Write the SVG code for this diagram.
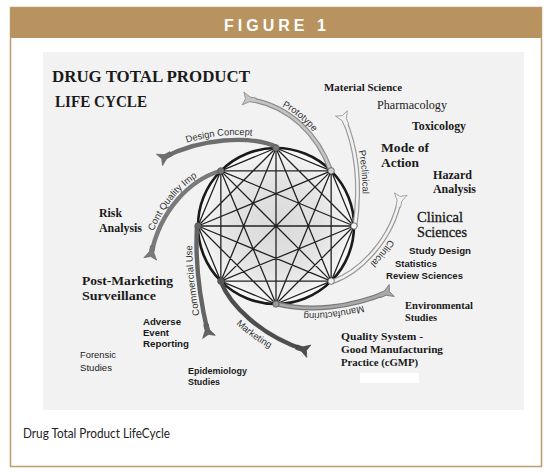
<svg xmlns="http://www.w3.org/2000/svg" width="550" height="472" viewBox="0 0 550 472">
<style>
.sb{font-family:"Liberation Serif","Times New Roman",serif;font-weight:bold;fill:#1a1a1a}
.sr{font-family:"Liberation Serif","Times New Roman",serif;fill:#1a1a1a}
.ab{font-family:"Liberation Sans",Arial,sans-serif;font-weight:bold;fill:#1a1a1a}
.ar{font-family:"Liberation Sans",Arial,sans-serif;fill:#1a1a1a}
.arc{font-family:"Liberation Sans",Arial,sans-serif;fill:#333;font-size:9.5px}
.band{fill:none;stroke-linecap:butt}
.chord{fill:none;stroke:#222;stroke-width:1.3}
.node{stroke:#555;stroke-width:0.8}
</style>
<defs>
<radialGradient id="gFill" cx="50%" cy="50%" r="50%">
<stop offset="0" stop-color="#dadada"/>
<stop offset="0.55" stop-color="#e2e2e2"/>
<stop offset="0.85" stop-color="#efefef"/>
<stop offset="1" stop-color="#fafafa"/>
</radialGradient>
<marker id="mk-dc" viewBox="-10 -8 15 16" refX="0" refY="0" markerWidth="15" markerHeight="16" markerUnits="userSpaceOnUse" orient="auto"><path d="M-9,-2.3 L-3,-2.3 L4,-6.5 L1.5,0 L4,6.5 L-3,2.3 L-9,2.3 Z" fill="#6e6e6e" stroke="#5e5e5e" stroke-width="0.6"/></marker>
<marker id="mk-cq" viewBox="-10 -8 15 16" refX="0" refY="0" markerWidth="15" markerHeight="16" markerUnits="userSpaceOnUse" orient="auto"><path d="M-9,-2.3 L-3,-2.3 L4,-6.5 L1.5,0 L4,6.5 L-3,2.3 L-9,2.3 Z" fill="#7a7a7a" stroke="#666" stroke-width="0.6"/></marker>
<marker id="mk-cu" viewBox="-10 -8 15 16" refX="0" refY="0" markerWidth="15" markerHeight="16" markerUnits="userSpaceOnUse" orient="auto"><path d="M-9,-2.3 L-3,-2.3 L4,-6.5 L1.5,0 L4,6.5 L-3,2.3 L-9,2.3 Z" fill="#646464" stroke="#555" stroke-width="0.6"/></marker>
<marker id="mk-mk" viewBox="-10 -8 15 16" refX="0" refY="0" markerWidth="15" markerHeight="16" markerUnits="userSpaceOnUse" orient="auto"><path d="M-9,-2.3 L-3,-2.3 L4,-6.5 L1.5,0 L4,6.5 L-3,2.3 L-9,2.3 Z" fill="#4e4e4e" stroke="#404040" stroke-width="0.6"/></marker>
<marker id="mk-mf" viewBox="-10 -8 15 16" refX="0" refY="0" markerWidth="15" markerHeight="16" markerUnits="userSpaceOnUse" orient="auto"><path d="M-9,-2.3 L-3,-2.3 L4,-6.5 L1.5,0 L4,6.5 L-3,2.3 L-9,2.3 Z" fill="#a8a8a8" stroke="#777" stroke-width="0.8"/></marker>
<marker id="mk-pt" viewBox="-10 -8 15 16" refX="0" refY="0" markerWidth="15" markerHeight="16" markerUnits="userSpaceOnUse" orient="auto"><path d="M-9,-2.3 L-3,-2.3 L4,-6.5 L1.5,0 L4,6.5 L-3,2.3 L-9,2.3 Z" fill="#c4c4c4" stroke="#8c8c8c" stroke-width="0.8"/></marker>
<marker id="mk-pc" viewBox="-10 -8 15 16" refX="0" refY="0" markerWidth="15" markerHeight="16" markerUnits="userSpaceOnUse" orient="auto"><path d="M-9,-2.3 L-3,-2.3 L4,-6.5 L1.5,0 L4,6.5 L-3,2.3 L-9,2.3 Z" fill="#f2f2f2" stroke="#999" stroke-width="0.8"/></marker>
<path id="tp-dc" d="M163,153 C200,133 250,130 277,142"/>
<path id="tp-pt" d="M247.6,95 C292.5,101.9 320.5,131.9 334.8,169.7"/>
<path id="tp-pc" d="M347.5,115 C363,150 365,190 360,226.7"/>
<path id="tp-cl" d="M404.9,198.9 C396.5,243 364,276 333.7,286.7"/>
<path id="tp-mf" d="M389.5,296 C351,313 310,317 276,309"/>
<path id="tp-mk" d="M208.9,286.7 C221.5,314.9 251.5,344.9 300.8,362.4"/>
<path id="tp-cu" d="M203.6,334.1 C195.5,300.5 190.5,260 192.5,225.7"/>
<path id="tp-cq" d="M146.6,254.1 C156.6,207.1 188.7,175.7 218.7,166.7"/>
</defs>

<rect width="550" height="472" fill="#ffffff"/>
<g id="frame">
<rect x="10.5" y="7.5" width="531" height="459" fill="#ffffff" stroke="#c09a6b" stroke-width="1.5"/>
<rect x="10.5" y="7.5" width="531" height="30.5" fill="#b8935f"/>
<text x="277" y="31" text-anchor="middle" font-family="Liberation Sans, Arial, sans-serif" font-weight="bold" font-size="16" letter-spacing="4" fill="#ffffff">FIGURE 1</text>
<rect x="43" y="52" width="481" height="358" fill="#f2f2f2"/>
<text x="23" y="438" font-family="Lato, 'Liberation Sans', sans-serif" font-size="12.5" fill="#222" textLength="147" lengthAdjust="spacingAndGlyphs">Drug Total Product LifeCycle</text>
</g>

<g id="title">
<text class="sb" x="52" y="82" font-size="16" textLength="198" lengthAdjust="spacingAndGlyphs">DRUG TOTAL PRODUCT</text>
<text class="sb" x="55" y="107" font-size="16" textLength="92" lengthAdjust="spacingAndGlyphs">LIFE CYCLE</text>
</g>

<g id="hub">
<circle cx="276" cy="226" r="78" fill="url(#gFill)"/>
<path class="chord" d="M276,148 L331.15,170.85 M276,148 L354,226 M276,148 L331.15,281.15 M276,148 L276,304 M276,148 L220.85,281.15 M276,148 L198,226 M276,148 L220.85,170.85
M331.15,170.85 L354,226 M331.15,170.85 L331.15,281.15 M331.15,170.85 L276,304 M331.15,170.85 L220.85,281.15 M331.15,170.85 L198,226 M331.15,170.85 L220.85,170.85
M354,226 L331.15,281.15 M354,226 L276,304 M354,226 L220.85,281.15 M354,226 L198,226 M354,226 L220.85,170.85
M331.15,281.15 L276,304 M331.15,281.15 L220.85,281.15 M331.15,281.15 L198,226 M331.15,281.15 L220.85,170.85
M276,304 L220.85,281.15 M276,304 L198,226 M276,304 L220.85,170.85
M220.85,281.15 L198,226 M220.85,281.15 L220.85,170.85
M198,226 L220.85,170.85"/>
<circle cx="276" cy="226" r="78" fill="none" stroke="#1a1a1a" stroke-width="2.6"/>
</g>

<g id="connectors">
<path class="band" d="M277,147 C250,135 200,138 163,158" stroke="#6e6e6e" stroke-width="4.4" marker-end="url(#mk-dc)"/>
<path class="band" d="M331,171 C318,135 290,105 247,99" stroke="#8c8c8c" stroke-width="5" marker-end="url(#mk-pt)"/>
<path class="band" d="M331,171 C318,135 290,105 247,99" stroke="#c4c4c4" stroke-width="2.6"/>
<path class="band" d="M355,226 C360,190 358,150 343,117" stroke="#999" stroke-width="5" marker-end="url(#mk-pc)"/>
<path class="band" d="M355,226 C360,190 358,150 343,117" stroke="#f2f2f2" stroke-width="2.6"/>
<path class="band" d="M332,282 C360,272 392,240 400,198" stroke="#999" stroke-width="5" marker-end="url(#mk-pc)"/>
<path class="band" d="M332,282 C360,272 392,240 400,198" stroke="#f2f2f2" stroke-width="2.6"/>
<path class="band" d="M277,304 C310,312 350,308 388,292" stroke="#777" stroke-width="5" marker-end="url(#mk-mf)"/>
<path class="band" d="M277,304 C310,312 350,308 388,292" stroke="#a8a8a8" stroke-width="2.6"/>
<path class="band" d="M221,282 C230,305 260,335 305,350" stroke="#4e4e4e" stroke-width="4.4" marker-end="url(#mk-mk)"/>
<path class="band" d="M197,226 C195,260 200,300 208,333" stroke="#646464" stroke-width="4.4" marker-end="url(#mk-cu)"/>
<path class="band" d="M220,171 C190,180 160,210 151,255" stroke="#7a7a7a" stroke-width="4.4" marker-end="url(#mk-cq)"/>
</g>

<g id="connector-labels">
<text class="arc" textLength="66" lengthAdjust="spacingAndGlyphs"><textPath href="#tp-dc" startOffset="50%" text-anchor="middle">Design Concept</textPath></text>
<text class="arc" font-size="10"><textPath href="#tp-pt" startOffset="47%" text-anchor="middle">Prototype</textPath></text>
<text class="arc" font-size="10.5"><textPath href="#tp-pc" startOffset="52%" text-anchor="middle">Preclinical</textPath></text>
<text class="arc" font-size="10.5"><textPath href="#tp-cl" startOffset="50%" text-anchor="middle">Clinical</textPath></text>
<text class="arc" font-size="9.5"><textPath href="#tp-mf" startOffset="50%" text-anchor="middle">Manufacturing</textPath></text>
<text class="arc" font-size="10.5"><textPath href="#tp-mk" startOffset="55%" text-anchor="middle">Marketing</textPath></text>
<text class="arc" font-size="10.5"><textPath href="#tp-cu" startOffset="50%" text-anchor="middle">Commercial Use</textPath></text>
<text class="arc" font-size="8.5"><textPath href="#tp-cq" startOffset="50%" text-anchor="middle">Cont Quality Imp</textPath></text>
</g>

<g id="nodes">
<circle id="n-top" class="node" cx="276" cy="148" r="3.2" fill="#777"/>
<circle id="n-ur" class="node" cx="331.15" cy="170.85" r="3.2" fill="#cfcfcf"/>
<circle id="n-r" class="node" cx="354" cy="226" r="3.2" fill="#f4f4f4"/>
<circle id="n-lr" class="node" cx="331.15" cy="281.15" r="3.2" fill="#eeeeee"/>
<circle id="n-b" class="node" cx="276" cy="304" r="3.2" fill="#999"/>
<circle id="n-ll" class="node" cx="220.85" cy="281.15" r="3.2" fill="#555"/>
<circle id="n-l" class="node" cx="198" cy="226" r="3.2" fill="#666"/>
<circle id="n-ul" class="node" cx="220.85" cy="170.85" r="3.2" fill="#777"/>
</g>

<g id="labels">
<text class="sb" x="324" y="90.5" font-size="11" textLength="78" lengthAdjust="spacingAndGlyphs">Material Science</text>
<text class="sr" x="377" y="108.5" font-size="12" textLength="70" lengthAdjust="spacingAndGlyphs">Pharmacology</text>
<text class="sb" x="412" y="129.5" font-size="11.5" textLength="54" lengthAdjust="spacingAndGlyphs">Toxicology</text>
<text class="sb" x="381" y="152" font-size="13.5" textLength="48" lengthAdjust="spacingAndGlyphs">Mode of</text>
<text class="sb" x="381" y="167" font-size="13.5" textLength="38" lengthAdjust="spacingAndGlyphs">Action</text>
<text class="sb" x="433" y="178.5" font-size="12" textLength="39" lengthAdjust="spacingAndGlyphs">Hazard</text>
<text class="sb" x="433" y="193" font-size="12" textLength="43" lengthAdjust="spacingAndGlyphs">Analysis</text>
<text class="sr" x="417" y="222" font-size="14" textLength="46" lengthAdjust="spacingAndGlyphs" stroke="#1a1a1a" stroke-width="0.3">Clinical</text>
<text class="sr" x="417" y="236.5" font-size="14" textLength="50" lengthAdjust="spacingAndGlyphs" stroke="#1a1a1a" stroke-width="0.3">Sciences</text>
<text class="ab" x="409" y="254" font-size="9.6" textLength="62" lengthAdjust="spacingAndGlyphs">Study Design</text>
<text class="ab" x="395" y="266.5" font-size="9.6" textLength="42" lengthAdjust="spacingAndGlyphs">Statistics</text>
<text class="ab" x="386" y="278.5" font-size="9.6" textLength="77" lengthAdjust="spacingAndGlyphs">Review Sciences</text>
<text class="sb" x="405" y="309" font-size="10.5" textLength="68" lengthAdjust="spacingAndGlyphs">Environmental</text>
<text class="sb" x="405" y="321" font-size="10.5" textLength="32" lengthAdjust="spacingAndGlyphs">Studies</text>
<text class="sb" x="341" y="340" font-size="11" textLength="82" lengthAdjust="spacingAndGlyphs">Quality System -</text>
<text class="sb" x="341" y="353" font-size="11" textLength="102" lengthAdjust="spacingAndGlyphs">Good Manufacturing</text>
<text class="sb" x="341" y="365.5" font-size="11" textLength="77" lengthAdjust="spacingAndGlyphs">Practice (cGMP)</text>
<rect x="360" y="373" width="59" height="10" fill="#ffffff"/>
<text class="sb" x="99" y="217" font-size="11.5" textLength="23" lengthAdjust="spacingAndGlyphs">Risk</text>
<text class="sb" x="99" y="232" font-size="11.5" textLength="43" lengthAdjust="spacingAndGlyphs">Analysis</text>
<text class="sb" x="82" y="285" font-size="13" textLength="91" lengthAdjust="spacingAndGlyphs">Post-Marketing</text>
<text class="sb" x="82" y="300" font-size="13" textLength="74" lengthAdjust="spacingAndGlyphs">Surveillance</text>
<text class="ab" x="143" y="325" font-size="9.6" textLength="38" lengthAdjust="spacingAndGlyphs">Adverse</text>
<text class="ab" x="143" y="336" font-size="9.6" textLength="26" lengthAdjust="spacingAndGlyphs">Event</text>
<text class="ab" x="143" y="347" font-size="9.6" textLength="46" lengthAdjust="spacingAndGlyphs">Reporting</text>
<text class="ar" x="80" y="358" font-size="9.5" textLength="36" lengthAdjust="spacingAndGlyphs">Forensic</text>
<text class="ar" x="80" y="371" font-size="9.5" textLength="32" lengthAdjust="spacingAndGlyphs">Studies</text>
<text class="ab" x="188" y="374" font-size="9.6" textLength="59" lengthAdjust="spacingAndGlyphs">Epidemiology</text>
<text class="ab" x="188" y="385" font-size="9.6" textLength="32" lengthAdjust="spacingAndGlyphs">Studies</text>
</g>
</svg>
